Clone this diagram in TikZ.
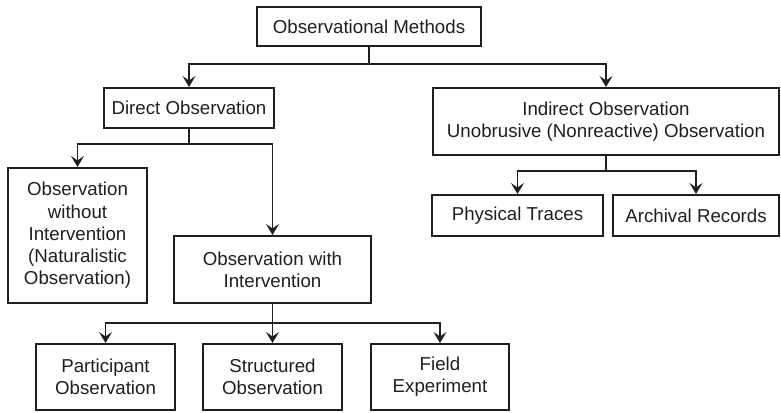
\documentclass[tikz,border=0pt]{standalone}
\usepackage{fontspec}
\setmainfont{Liberation Sans}
\usetikzlibrary{arrows.meta}
\begin{document}
\begin{tikzpicture}[x=1pt,y=-1pt,
  box/.style={draw=black!88,line width=2pt,align=center,inner sep=0pt,
    font=\fontsize{18.7}{22.2}\selectfont,text=black!88},
  conn/.style={draw=black!88,line width=1.4pt},
  arr/.style={conn,-{Stealth[length=11pt,width=13pt,inset=4.5pt]}}]
\useasboundingbox (0,0) rectangle (781,412);
\node[box,minimum width=224pt,minimum height=39pt] (top) at (369,26.5) {Observational Methods};
\node[box,minimum width=170pt,minimum height=40pt] (direct) at (189,108) {Direct Observation};
\node[box,minimum width=346pt,minimum height=67pt] (indirect) at (606,121.5) {Indirect Observation\\Unobrusive (Nonreactive) Observation};
\node[box,minimum width=171pt,minimum height=41pt] (phys) at (517.5,215.5) {Physical Traces};
\node[box,minimum width=166pt,minimum height=41pt] (arch) at (696,215.5) {Archival Records};
\node[box,minimum width=139pt,minimum height=135pt] (without) at (77.5,235.5) {Observation\\without\\Intervention\\(Naturalistic\\Observation)};
\node[box,minimum width=197pt,minimum height=67pt] (with) at (272.5,269.5) {Observation with\\Intervention};
\node[box,minimum width=139pt,minimum height=66pt] (part) at (105.5,377) {Participant\\Observation};
\node[box,minimum width=139pt,minimum height=66pt] (struct) at (272.5,377) {Structured\\Observation};
\node[box,minimum width=138pt,minimum height=66pt] (field) at (440,377) {Field\\Experiment};
% connectors
\draw[conn] (top.south) -- ++(0,17) coordinate (j1);
\draw[arr] (j1) -| (direct.north);
\draw[arr] (j1) -| (indirect.north);
\draw[conn] (direct.south) -- ++(0,15) coordinate (j2);
\draw[arr] (j2) -| (without.north);
\draw[arr] (j2) -| (with.north);
\draw[conn] (indirect.south) -- ++(0,15) coordinate (j3);
\draw[arr] (j3) -| (phys.north);
\draw[arr] (j3) -| (arch.north);
\draw[conn] (with.south) -- ++(0,19) coordinate (j4);
\draw[arr] (j4) -| (part.north);
\draw[arr] (j4) -- (struct.north);
\draw[arr] (j4) -| (field.north);
\end{tikzpicture}
\end{document}
